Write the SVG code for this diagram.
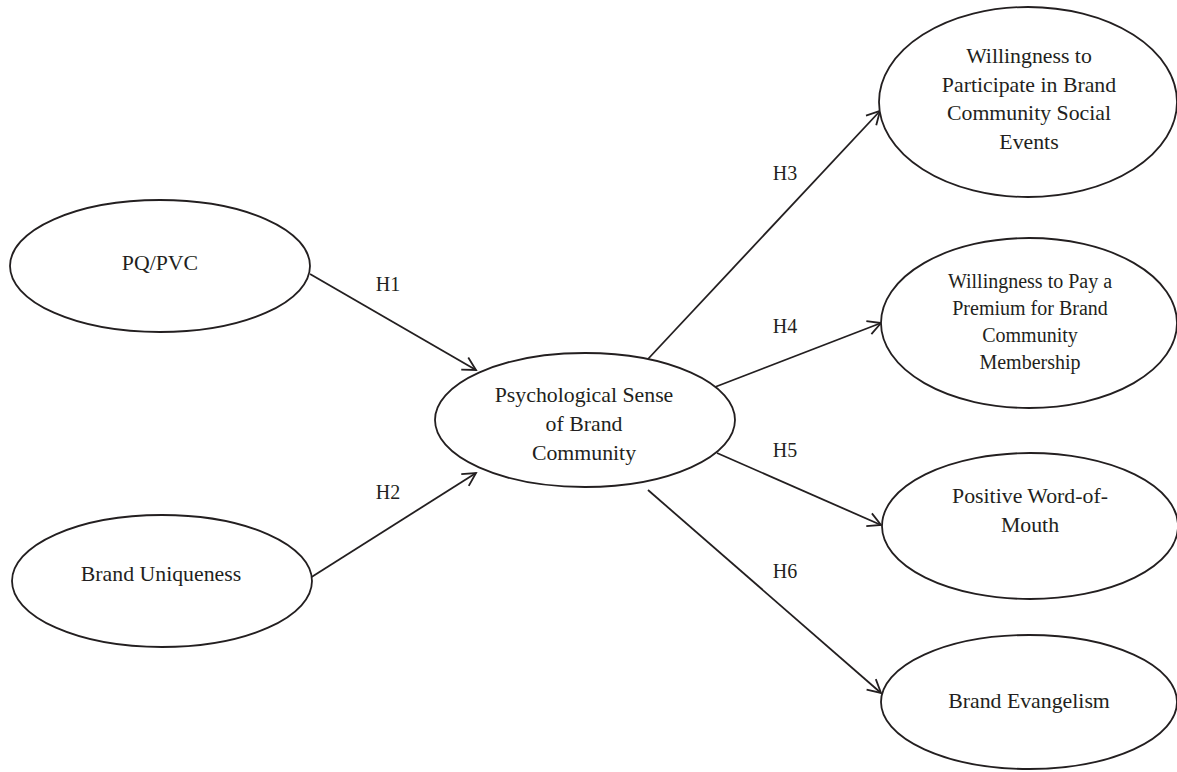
<svg xmlns="http://www.w3.org/2000/svg" width="1177" height="772" viewBox="0 0 1177 772">
<style>
.node ellipse{fill:#fff;stroke:#231f20;stroke-width:1.8}
text{font-family:"Liberation Serif","Times New Roman",serif;fill:#231f20;text-anchor:middle}
.t{font-size:21.8px}
.s{font-size:20px}
.lbl{font-size:20px}
.conn line{stroke:#231f20;stroke-width:1.8;marker-end:url(#arr)}
</style>
<defs>
<marker id="arr" markerUnits="userSpaceOnUse" markerWidth="20" markerHeight="20" viewBox="0 0 20 20" refX="16" refY="10" orient="auto">
<path d="M3,3 L16,10 L3,17" fill="none" stroke="#231f20" stroke-width="1.8"/>
</marker>
</defs>
<rect width="1177" height="772" fill="#fff"/>
<g id="connectors" class="conn">
<line x1="310" y1="274" x2="476" y2="370"/>
<line x1="310" y1="578" x2="476" y2="473"/>
<line x1="648" y1="359" x2="880" y2="111"/>
<line x1="715" y1="387" x2="881" y2="323"/>
<line x1="717" y1="453" x2="881" y2="525"/>
<line x1="648" y1="490" x2="881" y2="693"/>
</g>
<g id="labels">
<text class="lbl" x="388" y="291">H1</text>
<text class="lbl" x="388" y="499">H2</text>
<text class="lbl" x="785" y="180">H3</text>
<text class="lbl" x="785" y="333">H4</text>
<text class="lbl" x="785" y="457">H5</text>
<text class="lbl" x="785" y="578">H6</text>
</g>
<g id="n-pqpvc" class="node">
<ellipse cx="160" cy="266" rx="150" ry="66"/>
<text class="t" x="160" y="270">PQ/PVC</text>
</g>
<g id="n-uniq" class="node">
<ellipse cx="162" cy="581" rx="150" ry="66"/>
<text class="t" x="161" y="581">Brand Uniqueness</text>
</g>
<g id="n-psbc" class="node">
<ellipse cx="585" cy="420" rx="150" ry="67"/>
<text class="t" x="584" y="402">Psychological Sense</text>
<text class="t" x="584" y="431">of Brand</text>
<text class="t" x="584" y="460">Community</text>
</g>
<g id="n-events" class="node">
<ellipse cx="1028" cy="102" rx="149" ry="95"/>
<text class="t" x="1029" y="63">Willingness to</text>
<text class="t" x="1029" y="92">Participate in Brand</text>
<text class="t" x="1029" y="120">Community Social</text>
<text class="t" x="1029" y="149">Events</text>
</g>
<g id="n-premium" class="node">
<ellipse cx="1029" cy="323" rx="148" ry="85"/>
<text class="s" x="1030" y="288">Willingness to Pay a</text>
<text class="s" x="1030" y="315">Premium for Brand</text>
<text class="s" x="1030" y="342">Community</text>
<text class="s" x="1030" y="369">Membership</text>
</g>
<g id="n-wom" class="node">
<ellipse cx="1030" cy="526" rx="148" ry="73"/>
<text class="t" x="1030" y="503">Positive Word-of-</text>
<text class="t" x="1030" y="532">Mouth</text>
</g>
<g id="n-evang" class="node">
<ellipse cx="1029" cy="702" rx="148" ry="67"/>
<text class="t" x="1029" y="708">Brand Evangelism</text>
</g>
</svg>
